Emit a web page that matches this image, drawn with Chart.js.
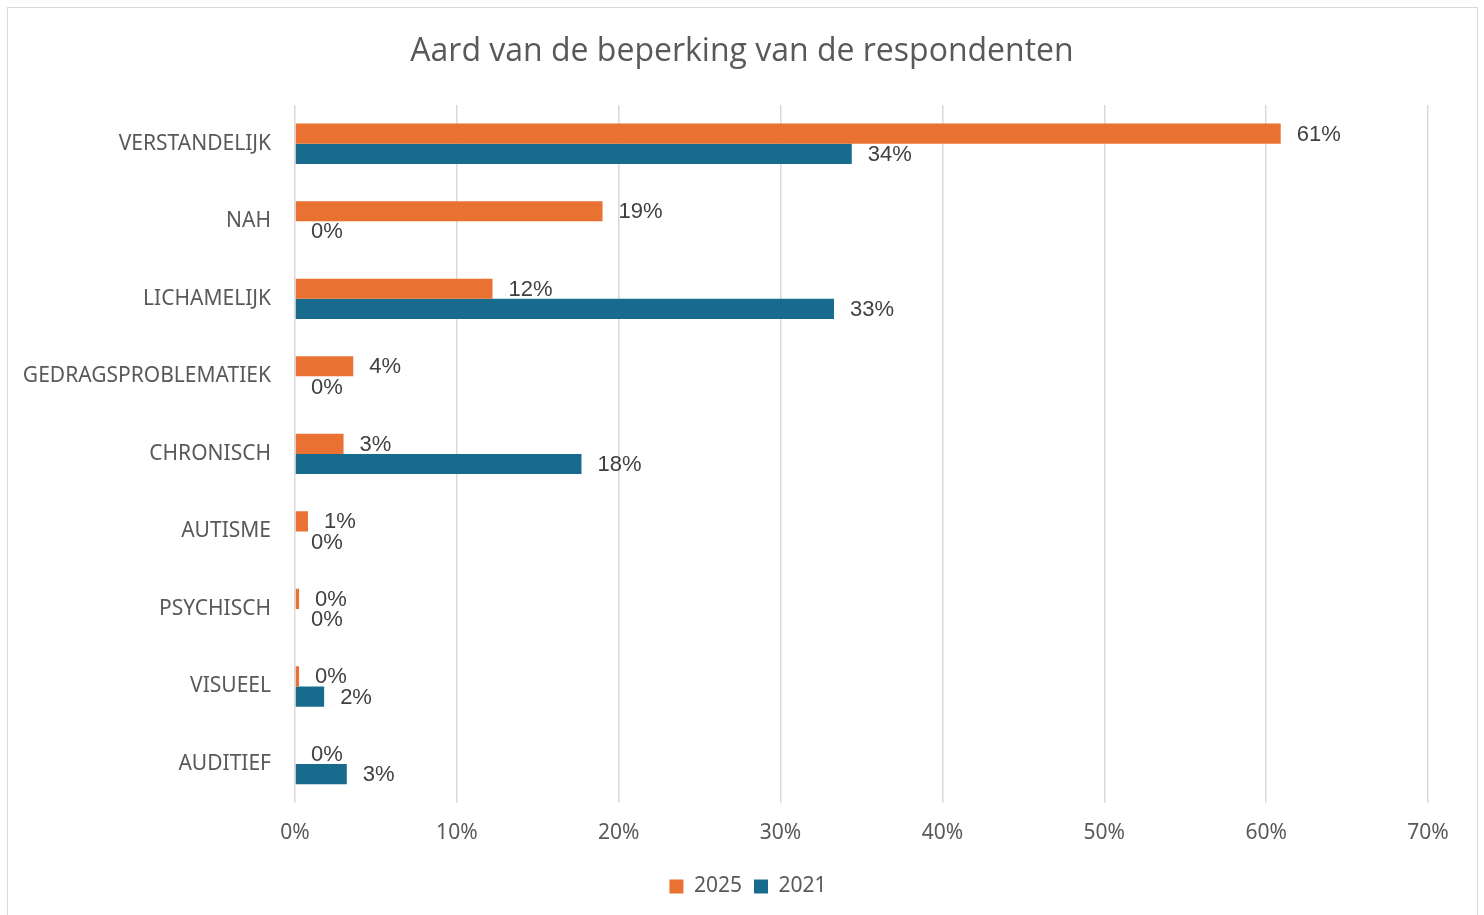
<!DOCTYPE html>
<html>
<head>
<meta charset="utf-8">
<script src="https://cdn.jsdelivr.net/npm/chart.js@4"></script>
<style>
  html, body { margin: 0; padding: 0; background: #fff; }
  #wrap { position: relative; width: 1484px; height: 915px; }
  #frame { position: absolute; left: 7px; top: 7px; width: 1471px; height: 910px;
           border: 1.5px solid #d9d9d9; box-sizing: border-box; pointer-events: none; }
</style>
</head>
<body>
<div id="wrap">
  <canvas id="myChart" width="1484" height="915"></canvas>
  <div id="frame"></div>
</div>
<script>
// Dados
const categorieen = ['VERSTANDELIJK', 'NAH', 'LICHAMELIJK', 'GEDRAGSPROBLEMATIEK', 'CHRONISCH', 'AUTISME', 'PSYCHISCH', 'VISUEEL', 'AUDITIEF'];
const waarden2025 = [60.9, 19.0, 12.2, 3.6, 3.0, 0.8, 0.25, 0.25, 0];
const waarden2021 = [34.4, 0, 33.3, 0, 17.7, 0, 0, 1.8, 3.2];
const xTicks = [0, 10, 20, 30, 40, 50, 60, 70];
const titel = 'Aard van de beperking van de respondenten';

const oranje = '#e97132';
const blauw = '#196b8d';

// labels achter de balken
const balkLabels = {
    id: 'balkLabels',
    afterDatasetsDraw(chart) {
        const ctx = chart.ctx;
        ctx.save();
        ctx.font = '22px "Liberation Sans", Arial, sans-serif';
        ctx.fillStyle = '#404040';
        ctx.textAlign = 'left';
        ctx.textBaseline = 'middle';
        chart.data.datasets.forEach((ds, i) => {
            const meta = chart.getDatasetMeta(i);
            meta.data.forEach((bar, j) => {
                ctx.fillText(Math.round(ds.data[j]) + '%', bar.x + 16, bar.y + 1);
            });
        });
        ctx.restore();
    }
};

// titel gecentreerd over het hele canvas, legenda ook
const titelPlugin = {
    id: 'titelPlugin',
    afterLayout(chart) {
        const lg = chart.legend;
        lg.left += 34;
        lg.right += 34;
    },
    afterDraw(chart) {
        const ctx = chart.ctx;
        ctx.save();
        ctx.font = '32px "Open Sans", "Noto Sans", sans-serif';
        ctx.fillStyle = '#595959';
        ctx.textAlign = 'center';
        ctx.textBaseline = 'middle';
        ctx.fillText(titel, chart.width / 2, 52);
        ctx.restore();
    }
};

const data = {
    labels: categorieen,
    datasets: [
        { label: '2025', data: waarden2025, backgroundColor: oranje, borderWidth: 0 },
        { label: '2021', data: waarden2021, backgroundColor: blauw, borderWidth: 0 }
    ]
};

const options = {
    indexAxis: 'y',
    responsive: false,
    animation: false,
    datasets: { bar: { categoryPercentage: 0.52, barPercentage: 1 } },
    layout: { padding: { top: 105, right: 56, bottom: 8, left: 0 } },
    plugins: {
        title: { display: false },
        legend: {
            position: 'bottom',
            labels: {
                color: '#595959',
                font: { family: '"Noto Sans", sans-serif', size: 21 },
                boxWidth: 14, boxHeight: 14, padding: 12
            }
        },
        tooltip: { enabled: false }
    },
    scales: {
        x: {
            min: 0, max: 70,
            afterBuildTicks(scale) { scale.ticks = xTicks.map(v => ({ value: v })); },
            ticks: {
                color: '#595959',
                font: { family: '"Noto Sans", sans-serif', size: 21 },
                padding: 18,
                callback: v => v + '%'
            },
            grid: { color: '#d9d9d9', lineWidth: 1.5, drawTicks: false },
            border: { display: false }
        },
        y: {
            afterFit(scale) { scale.width = 295; },
            ticks: {
                color: '#595959',
                font: { family: '"Noto Sans", sans-serif', size: 21 },
                padding: 16
            },
            grid: { display: false },
            border: { display: false }
        }
    }
};

const ctx = document.getElementById('myChart').getContext('2d');
const myChart = new Chart(ctx, {
    type: 'bar',
    data: data,
    options: options,
    plugins: [balkLabels, titelPlugin]
});
</script>
</body>
</html>
